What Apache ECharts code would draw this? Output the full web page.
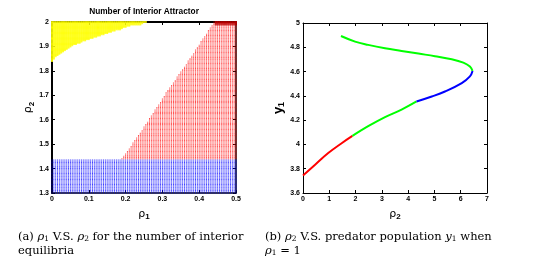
<!DOCTYPE html>
<html><head><meta charset="utf-8">
<script src="https://cdn.jsdelivr.net/npm/echarts@6/dist/echarts.min.js"></script>
<style>html,body{margin:0;padding:0;background:#fff}#c{width:537px;height:265px}</style>
</head><body><div id="c"></div>
<script>
// ---------- Panel (a): rho1 vs rho2, number of interior attractors ----------
const rho1Ticks = [0, 0.1, 0.2, 0.3, 0.4, 0.5];
const rho2Ticks = [1.3, 1.4, 1.5, 1.6, 1.7, 1.8, 1.9, 2.0];
// lower edge of the yellow region (rho1 -> rho2)
const yellowEdgeRho1 = [0, 0.01, 0.02, 0.05, 0.075, 0.10, 0.13, 0.16, 0.185, 0.21, 0.24, 0.255];
const yellowEdgeRho2 = [1.84, 1.86, 1.87, 1.90, 1.915, 1.93, 1.945, 1.96, 1.97, 1.985, 1.99, 2.0];
// left edge of the red region (rho2 -> rho1)
const redEdgeRho2 = [1.44, 1.57, 1.71, 1.84, 2.0];
const redEdgeRho1 = [0.19, 0.25, 0.31, 0.37, 0.44];
// top of the blue region
const blueTopRho2 = 1.435;
// dark red corner region
const darkRedRho1 = 0.445, darkRedRho2 = 1.99;
// sampling grid of the computation
const gridStepRho1 = 0.005, gridStepRho2 = 0.005;

// ---------- Panel (b): rho2 vs predator population y1 ----------
const xTicksB = [0, 1, 2, 3, 4, 5, 6, 7];
const yTicksB = [3.6, 3.8, 4.0, 4.2, 4.4, 4.6, 4.8, 5.0];
const redRho2 = [0, 0.46, 0.96, 1.47, 1.88];
const redY1   = [3.745, 3.833, 3.929, 4.01, 4.07];
const green1Rho2 = [1.88, 2.48, 3.12, 3.75, 4.32];
const green1Y1   = [4.07, 4.15, 4.225, 4.287, 4.354];
const blueRho2 = [4.32, 4.90, 5.40, 6.04, 6.35, 6.45];
const blueY1   = [4.354, 4.395, 4.436, 4.505, 4.56, 4.605];
const green2Rho2 = [6.45, 6.35, 6.10, 5.66, 5.02, 4.39, 3.75, 3.12, 2.48, 1.98, 1.445];
const green2Y1   = [4.605, 4.642, 4.674, 4.702, 4.727, 4.748, 4.770, 4.792, 4.820, 4.847, 4.893];

function interp(xs, ys, x) {
  if (x <= xs[0]) return ys[0];
  for (let i = 1; i < xs.length; i++) {
    if (x <= xs[i]) { const t = (x - xs[i-1]) / (xs[i] - xs[i-1]); return ys[i-1] + t * (ys[i] - ys[i-1]); }
  }
  return ys[ys.length - 1];
}
const yellowPts = [], redPts = [], bluePts = [], darkPts = [];
const nI = Math.round(0.5 / gridStepRho1), nJ = Math.round(0.7 / gridStepRho2);
for (let i = 0; i <= nI; i++) {
  const r1 = +(i * gridStepRho1).toFixed(4);
  for (let j = 0; j <= nJ; j++) {
    const r2 = +(1.3 + j * gridStepRho2).toFixed(4);
    if (r1 <= yellowEdgeRho1[yellowEdgeRho1.length-1] && r2 >= interp(yellowEdgeRho1, yellowEdgeRho2, r1) - 1e-9) yellowPts.push([r1, r2]);
    else if (r2 <= blueTopRho2) bluePts.push([r1, r2]);
    else if (r1 >= darkRedRho1 && r2 >= darkRedRho2) darkPts.push([r1, r2]);
    else if (r1 >= interp(redEdgeRho2, redEdgeRho1, r2)) redPts.push([r1, r2]);
  }
}
const zip = (a, b) => a.map((v, i) => [v, b[i]]);

const tickFont = {fontSize: 7, fontWeight: 'bold', fontFamily: 'Liberation Sans', color: '#000'};
function axisBase(min, max, interval, show, fmt, gridIndex, pos, lw) {
  return {
    type: 'value', gridIndex, position: pos, min, max, interval,
    axisLine: {show: true, onZero: false, lineStyle: {color: '#000', width: lw || 1}},
    axisTick: {show: true, inside: true, length: 3, lineStyle: {color: '#000'}},
    axisLabel: Object.assign({show, formatter: fmt, margin: 3}, tickFont),
    splitLine: {show: false}
  };
}
const f1 = v => String(+v.toFixed(1));
const nameRich = {
  r: {fontSize: 11, fontFamily: 'DejaVu Sans', color: '#000'},
  s: {fontSize: 8, fontFamily: 'Liberation Sans', fontWeight: 'bold', color: '#000', padding: [6, 0, 0, 0]},
  y: {fontSize: 13, fontFamily: 'Liberation Sans', fontWeight: 'bold', color: '#000'},
  t: {fontSize: 9, fontFamily: 'Liberation Sans', fontWeight: 'bold', color: '#000', padding: [6, 0, 0, 0]}
};
const capRich = {
  n: {fontSize: 11.5, fontFamily: 'DejaVu Serif', fontWeight: 'normal', color: '#000'},
  i: {fontSize: 11.5, fontFamily: 'DejaVu Serif', fontStyle: 'italic', fontWeight: 'normal', color: '#000'},
  s: {fontSize: 7.5, fontFamily: 'DejaVu Serif', fontWeight: 'normal', color: '#000', padding: [4, 0, 0, 0]}
};

const xa0 = axisBase(0, 0.5, 0.1, true, f1, 0, 'bottom', 1.5);
xa0.name = '{r|ρ}{s|1}'; xa0.nameLocation = 'middle'; xa0.nameGap = 14; xa0.nameTextStyle = {rich: nameRich};
const ya0 = axisBase(1.3, 2.0, 0.1, true, f1, 0, 'left', 2);
ya0.name = '{r|ρ}{s|2}'; ya0.nameLocation = 'middle'; ya0.nameGap = 15; ya0.nameTextStyle = {rich: nameRich};
const xa1 = axisBase(0, 7, 1, true, v => String(v), 1, 'bottom');
xa1.name = '{r|ρ}{s|2}'; xa1.nameLocation = 'middle'; xa1.nameGap = 14; xa1.nameTextStyle = {rich: nameRich};
const ya1 = axisBase(3.6, 5.0, 0.2, true, f1, 1, 'left');
ya1.name = '{y|y}{t|1}'; ya1.nameLocation = 'middle'; ya1.nameGap = 17; ya1.nameTextStyle = {rich: nameRich};

const option = {
  animation: false,
  backgroundColor: '#fff',
  title: [
    {text: 'Number of Interior Attractor', left: 144, top: 8, padding: 0, textAlign: 'center',
     textStyle: {fontSize: 8.3, fontWeight: 'bold', fontFamily: 'Liberation Sans Narrow, Liberation Sans', color: '#000'}},
    {text: '{n|(a) }{i|ρ}{s|1}{n| V.S. }{i|ρ}{s|2}{n| for the number of interior}\n{n|equilibria}', left: 18, top: 230, padding: 0,
     textStyle: {rich: capRich, lineHeight: 14, fontWeight: 'normal'}},
    {text: '{n|(b) }{i|ρ}{s|2}{n| V.S. predator population }{i|y}{s|1}{n| when}\n{i|ρ}{s|1}{n| = 1}', left: 265, top: 230, padding: 0,
     textStyle: {rich: capRich, lineHeight: 14, fontWeight: 'normal'}}
  ],
  grid: [
    {left: 52, top: 22, width: 184, height: 171, show: false},
    {left: 303, top: 23, width: 184, height: 170, show: false}
  ],
  xAxis: [
    xa0,
    axisBase(0, 0.5, 0.1, false, f1, 0, 'top', 2),
    xa1,
    axisBase(0, 7, 1, false, f1, 1, 'top')
  ],
  yAxis: [
    ya0,
    axisBase(1.3, 2.0, 0.1, false, f1, 0, 'right', 1.5),
    ya1,
    axisBase(3.6, 5.0, 0.2, false, f1, 1, 'right')
  ],
  series: [
    {type: 'scatter', xAxisIndex: 0, yAxisIndex: 0, data: bluePts, symbol: 'rect', symbolSize: [1, 1], itemStyle: {color: '#0000ff', opacity: 0.75}, silent: true},
    {type: 'scatter', xAxisIndex: 0, yAxisIndex: 0, data: redPts, symbol: 'rect', symbolSize: [1, 1], itemStyle: {color: '#ff0000', opacity: 0.7}, silent: true},
    {type: 'scatter', xAxisIndex: 0, yAxisIndex: 0, data: darkPts, symbol: 'rect', symbolSize: [2, 2], itemStyle: {color: '#c00000'}, silent: true},
    {type: 'scatter', xAxisIndex: 0, yAxisIndex: 0, data: yellowPts, symbol: 'rect', symbolSize: [2, 2], itemStyle: {color: '#ffff00'}, silent: true},
    {type: 'line', xAxisIndex: 2, yAxisIndex: 2, data: zip(redRho2, redY1), smooth: 0.4, showSymbol: false, lineStyle: {color: '#ff0000', width: 2}},
    {type: 'line', xAxisIndex: 2, yAxisIndex: 2, data: zip(green1Rho2, green1Y1), smooth: 0.4, showSymbol: false, lineStyle: {color: '#00ff00', width: 2}},
    {type: 'line', xAxisIndex: 2, yAxisIndex: 2, data: zip(blueRho2, blueY1), smooth: 0.4, showSymbol: false, lineStyle: {color: '#0000ff', width: 2}},
    {type: 'line', xAxisIndex: 2, yAxisIndex: 2, data: zip(green2Rho2, green2Y1), smooth: 0.4, showSymbol: false, lineStyle: {color: '#00ff00', width: 2}}
  ]
};
const chart = echarts.init(document.getElementById('c'), null, {renderer: 'canvas'});
chart.setOption(option);
</script>
</body></html>
